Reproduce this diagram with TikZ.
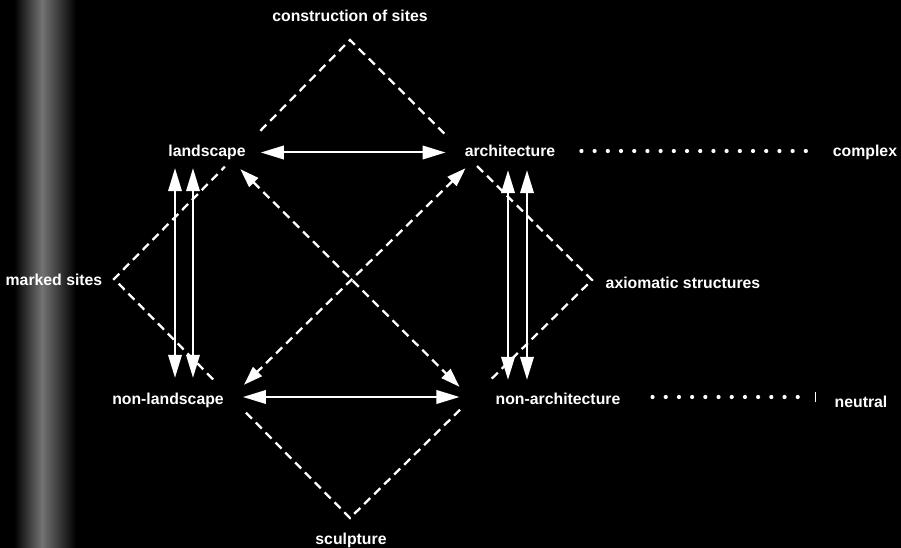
\documentclass[tikz,border=0pt]{standalone}
\usepackage{fontspec}
\setmainfont{Liberation Sans}
\usetikzlibrary{arrows.meta,calc}

\begin{document}
\begin{tikzpicture}[x=1pt,y=-1pt,>={Triangle[length=23pt,width=13.5pt]},
  lbl/.style={text=white, font=\fontsize{15.8}{18}\selectfont\bfseries, inner sep=0pt, text height=11.5pt, text depth=3.5pt},
  wa/.style={<->, white, line width=2pt},
  dsh/.style={white, line width=2.3pt, dash pattern=on 8.5pt off 5.5pt},
  dwa/.style={dsh, <->, >={Triangle[length=19pt,width=12.5pt]}},
  dots/.style={white, line width=4.2pt, line cap=round, dash pattern=on 0pt off 13.2pt}]
% background and scan strip
\fill[black] (0,0) rectangle (901,548);
\useasboundingbox (0,0) rectangle (901,548);
\shade[left color=black, right color=black!55!white] (14,0) rectangle (42,548);
\shade[left color=black!55!white, right color=black] (42,0) rectangle (76,548);

% terms
\node[lbl] (land) at (207,152.5) {landscape};
\node[lbl] (arch) at (510,152.5) {architecture};
\node[lbl] (nland) at (168,400.5) {non-landscape};
\node[lbl] (narch) at (558,400.5) {non-architecture};
\node[lbl] (cons) at (350,18) {construction of sites};
\node[lbl] (marked) at (54,281) {marked sites};
\node[lbl] (axiom) at (683,284) {axiomatic structures};
\node[lbl] (sculp) at (351,540) {sculpture};
\node[lbl] (cplx) at (865,153) {complex};
\node[lbl] (neut) at (861,403) {neutral};

% outer diamond
\coordinate (vT) at (350,40);
\coordinate (vR) at (592,280);
\coordinate (vB) at (350,518);
\coordinate (vL) at (114,279);
\draw[dsh] ($(vT)!.38!(vL)$) -- (vT) -- ($(vT)!.405!(vR)$);
\draw[dsh] ($(vT)!.525!(vR)$) -- (vR) -- ($(vR)!.43!(vB)$);
\draw[dsh] ($(vR)!.545!(vB)$) -- (vB) -- ($(vL)!.544!(vB)$);
\draw[dsh] ($(vL)!.42!(vB)$) -- (vL) -- ($(vT)!.53!(vL)$);

% contraries
\draw[wa, shorten <=15pt, shorten >=19pt] (land.east) -- (arch.west);
\draw[wa, shorten <=19pt, shorten >=36pt] ([shift={(0,-3.5)}]nland.east) -- ([shift={(0,-3.5)}]narch.west);

% complementaries
\draw[wa, shorten <=8pt, shorten >=15pt] ([shift={(-32,0)}]land.south) -- ([shift={(7,0)}]nland.north);
\draw[wa, shorten <=8pt, shorten >=15pt] ([shift={(-14,0)}]land.south) -- ([shift={(25,0)}]nland.north);
\draw[wa, shorten <=10pt, shorten >=13pt] ([shift={(-2,0)}]arch.south) -- ([shift={(-50,0)}]narch.north);
\draw[wa, shorten <=10pt, shorten >=13pt] ([shift={(17,0)}]arch.south) -- ([shift={(-31,0)}]narch.north);

% contradictions
\draw[dwa] ([shift={(-5.5,9)}]land.south east) -- ([shift={(-36,-6)}]narch.north west);
\draw[dwa] ([shift={(1,8)}]arch.south west) -- ([shift={(20,-8)}]nland.north east);

% dotted leaders
\draw[dots, shorten <=26pt, shorten >=25pt] ([shift={(0,-1.5)}]arch.east) -- ([shift={(0,-2)}]cplx.west);
\draw[dots, shorten <=32pt, shorten >=32pt] ([shift={(0,-3.5)}]narch.east) -- ([shift={(0,-6)}]neut.west);
\draw[white, line width=1pt] ([shift={(-19,-11)}]neut.west) -- ++(0,10);
\end{tikzpicture}
\end{document}
